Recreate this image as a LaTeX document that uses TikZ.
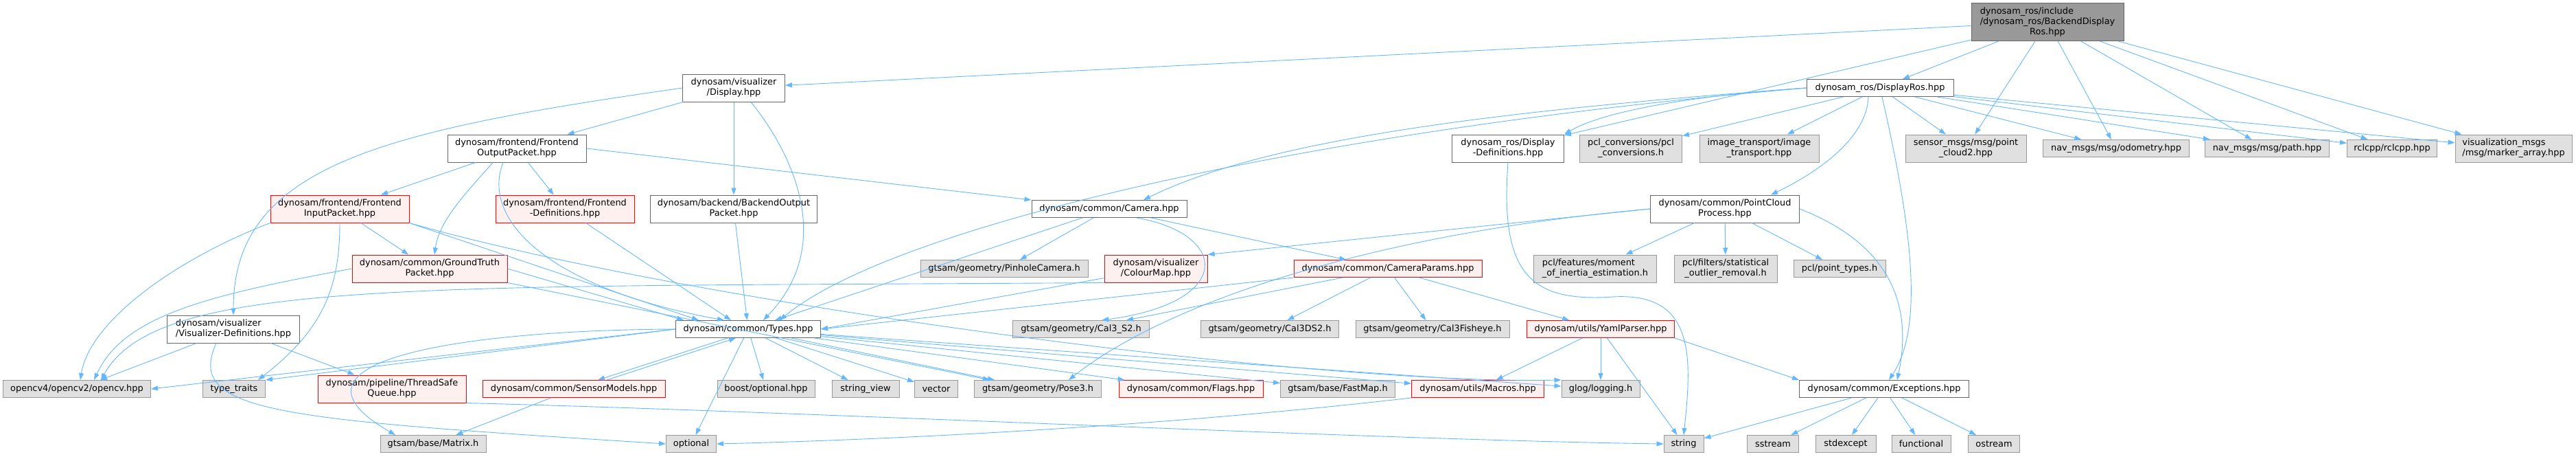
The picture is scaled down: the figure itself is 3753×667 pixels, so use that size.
\documentclass[tikz,border=0pt]{standalone}
\usepackage{fontspec}
\setmainfont{DejaVu Sans}
\usetikzlibrary{arrows.meta}

\definecolor{edgeblue}{HTML}{63B8FF}
\definecolor{sysfill}{HTML}{E0E0E0}
\definecolor{sysline}{HTML}{999999}
\definecolor{fileline}{HTML}{666666}
\definecolor{redfill}{HTML}{FFF0F0}
\definecolor{topfill}{HTML}{999999}

% labels split over lines, last line centred
\newcommand{\twoline}[2]{\begin{tabular}{@{}l@{}}#1\\\multicolumn{1}{@{}c@{}}{#2}\end{tabular}}
\newcommand{\threeline}[3]{\begin{tabular}{@{}l@{}}#1\\#2\\\multicolumn{1}{@{}c@{}}{#3}\end{tabular}}

\begin{document}
\begin{tikzpicture}[x=1pt, y=-1pt,
    whitebox/.style={rectangle, draw=fileline, line width=1pt, fill=white, inner sep=0pt,
      minimum height=25, font=\fontsize{12.9}{15}\selectfont},
    graybox/.style={whitebox, draw=sysline, fill=sysfill},
    redbox/.style={whitebox, draw=red, fill=redfill},
    topbox/.style={whitebox, fill=topfill},
    twolines/.style={minimum height=40},
    incl/.style={draw=edgeblue, line width=0.9pt, -{Triangle[length=10pt,width=7pt]}}]

    \useasboundingbox (0,0) rectangle (3753,667);

    % Top file
    \node[topbox, minimum width=222, minimum height=55] (top) at (2983,32)
        {\threeline{dynosam\_ros/include}{/dynosam\_ros/BackendDisplay}{Ros.hpp}};

    % Row 1
    \node[whitebox, twolines, minimum width=149] (display) at (1069,128) {\twoline{dynosam/visualizer}{/Display.hpp}};
    \node[whitebox, minimum width=214] (displayros) at (2739,128) {dynosam\_ros/DisplayRos.hpp};

    % Row 2
    \node[whitebox, twolines, minimum width=202] (feout) at (753,216) {\twoline{dynosam/frontend/Frontend}{OutputPacket.hpp}};
    \node[whitebox, twolines, minimum width=163] (rosdef) at (2197,216) {\twoline{dynosam\_ros/Display}{-Definitions.hpp}};
    \node[graybox, twolines, minimum width=149] (pclconv) at (2376,216) {\twoline{pcl\_conversions/pcl}{\_conversions.h}};
    \node[graybox, twolines, minimum width=174] (imgtr) at (2563,216) {\twoline{image\_transport/image}{\_transport.hpp}};
    \node[graybox, twolines, minimum width=176] (pctwo) at (2864,216) {\twoline{sensor\_msgs/msg/point}{\_cloud2.hpp}};
    \node[graybox, minimum width=213] (odom) at (3083,216) {nav\_msgs/msg/odometry.hpp};
    \node[graybox, minimum width=181] (navpath) at (3303,216) {nav\_msgs/msg/path.hpp};
    \node[graybox, minimum width=131] (rclcpp) at (3485,216) {rclcpp/rclcpp.hpp};
    \node[graybox, twolines, minimum width=170] (marker) at (3662,216) {\twoline{visualization\_msgs}{/msg/marker\_array.hpp}};

    % Row 3
    \node[redbox, twolines, minimum width=202] (fein) at (495,304) {\twoline{dynosam/frontend/Frontend}{InputPacket.hpp}};
    \node[redbox, twolines, minimum width=202] (fedef) at (823,304) {\twoline{dynosam/frontend/Frontend}{-Definitions.hpp}};
    \node[whitebox, twolines, minimum width=243] (beout) at (1069,304) {\twoline{dynosam/backend/BackendOutput}{Packet.hpp}};
    \node[whitebox, minimum width=226] (camera) at (1616,304) {dynosam/common/Camera.hpp};
    \node[whitebox, twolines, minimum width=217] (pcproc) at (2513,304) {\twoline{dynosam/common/PointCloud}{Process.hpp}};

    % Row 4
    \node[redbox, twolines, minimum width=226] (gtpacket) at (626,391) {\twoline{dynosam/common/GroundTruth}{Packet.hpp}};
    \node[graybox, minimum width=244] (pinhole) at (1463,391) {gtsam/geometry/PinholeCamera.h};
    \node[redbox, twolines, minimum width=150] (colourmap) at (1684,391) {\twoline{dynosam/visualizer}{/ColourMap.hpp}};
    \node[redbox, minimum width=274] (camparams) at (2022,391) {dynosam/common/CameraParams.hpp};
    \node[graybox, twolines, minimum width=179] (moment) at (2324,391) {\twoline{pcl/features/moment}{\_of\_inertia\_estimation.h}};
    \node[graybox, twolines, minimum width=150] (outlier) at (2514,391) {\twoline{pcl/filters/statistical}{\_outlier\_removal.h}};
    \node[graybox, minimum width=134] (pointtypes) at (2680,391) {pcl/point\_types.h};

    % Row 5
    \node[whitebox, twolines, minimum width=193] (visdef) at (340,479) {\twoline{dynosam/visualizer}{/Visualizer-Definitions.hpp}};
    \node[whitebox, minimum width=211] (types) at (1090,479) {dynosam/common/Types.hpp};
    \node[graybox, minimum width=199] (calstwo) at (1575,479) {gtsam/geometry/Cal3\_S2.h};
    \node[graybox, minimum width=201] (caldstwo) at (1850,479) {gtsam/geometry/Cal3DS2.h};
    \node[graybox, minimum width=224] (fisheye) at (2087,479) {gtsam/geometry/Cal3Fisheye.h};
    \node[redbox, minimum width=215] (yaml) at (2332,479) {dynosam/utils/YamlParser.hpp};

    % Row 6
    \node[graybox, minimum width=215] (opencv) at (112,566) {opencv4/opencv2/opencv.hpp};
    \node[graybox, minimum width=91] (typetraits) at (341,566) {type\_traits};
    \node[redbox, twolines, minimum width=216] (tsqueue) at (571,566) {\twoline{dynosam/pipeline/ThreadSafe}{Queue.hpp}};
    \node[redbox, minimum width=266] (sensormodels) at (836,566) {dynosam/common/SensorModels.hpp};
    \node[graybox, minimum width=142] (boostopt) at (1116,566) {boost/optional.hpp};
    \node[graybox, minimum width=98] (stringview) at (1261,566) {string\_view};
    \node[graybox, minimum width=63] (vector) at (1364,566) {vector};
    \node[graybox, minimum width=185] (pose) at (1512,566) {gtsam/geometry/Pose3.h};
    \node[redbox, minimum width=210] (flags) at (1735,566) {dynosam/common/Flags.hpp};
    \node[graybox, minimum width=167] (fastmap) at (1949,566) {gtsam/base/FastMap.h};
    \node[redbox, minimum width=193] (macros) at (2153,566) {dynosam/utils/Macros.hpp};
    \node[graybox, minimum width=114] (glog) at (2332,566) {glog/logging.h};
    \node[whitebox, minimum width=247] (exceptions) at (2745,566) {dynosam/common/Exceptions.hpp};

    % Row 7
    \node[graybox, minimum width=154] (matrix) at (631,646) {gtsam/base/Matrix.h};
    \node[graybox, minimum width=73] (optional) at (1007,646) {optional};
    \node[graybox, minimum width=58] (string) at (2453,646) {string};
    \node[graybox, minimum width=75] (sstream) at (2583,646) {sstream};
    \node[graybox, minimum width=88] (stdexcept) at (2689,646) {stdexcept};
    \node[graybox, minimum width=86] (functional) at (2799,646) {functional};
    \node[graybox, minimum width=75] (ostream) at (2905,646) {ostream};

    % Includes of the top file
    \foreach \dst in {display, displayros, rosdef, pctwo, odom, navpath, rclcpp, marker}
        \draw[incl] (top) -- (\dst);

    % Includes of DisplayRos
    \foreach \dst in {pclconv, imgtr, pctwo, odom, navpath, rclcpp, marker}
        \draw[incl] (displayros) -- (\dst);
    \draw[incl] (displayros.west) .. controls (2450,140) and (2330,165) .. (rosdef.north east);
    \draw[incl] (displayros.west) .. controls (1900,190) and (1300,330) .. ([xshift=46]types.north);
    \draw[incl] (displayros.west) .. controls (2200,160) and (1850,200) .. ([xshift=50]camera.north);
    \draw[incl] ([xshift=-17]displayros.south) .. controls (2720,200) and (2650,250) .. ([xshift=67]pcproc.north);
    \draw[incl] ([xshift=3]displayros.south) .. controls (2790,350) and (2800,480) .. ([xshift=7]exceptions.north);

    % Includes of Display
    \draw[incl] (display) -- (feout);
    \draw[incl] (display) -- (beout);
    \draw[incl] ([xshift=25]display.south) .. controls (1160,230) and (1215,360) .. ([xshift=22]types.north);
    \draw[incl] (display.west) .. controls (560,190) and (340,240) .. (visdef.north);

    % Includes of the frontend packets
    \draw[incl] (feout) -- (fein);
    \draw[incl] (feout) -- (fedef);
    \draw[incl] (feout.east) -- (camera.north west);
    \draw[incl] ([xshift=-35]feout.south) .. controls (680,280) and (640,320) .. ([xshift=7]gtpacket.north);
    \draw[incl] ([xshift=-20]feout.south) .. controls (700,320) and (800,420) .. ([xshift=-35]types.north);
    \draw[incl] (fedef) -- ([xshift=-25]types.north);
    \draw[incl] (beout) -- (types);
    \draw[incl] (fein) -- (gtpacket);
    \draw[incl] (fein.south east) -- ([xshift=-72]types.north);
    \draw[incl] (fein.south west) .. controls (250,380) and (130,470) .. ([xshift=5]opencv.north);
    \draw[incl] (fein.south) .. controls (495,420) and (470,480) .. ([xshift=35]typetraits.north);
    \draw[incl] (fein.south east) .. controls (1000,440) and (1900,560) .. (glog.north west);
    \draw[incl] (gtpacket.west) .. controls (300,430) and (180,460) .. ([xshift=25]opencv.north);
    \draw[incl] (gtpacket.east) -- ([xshift=-94]types.north);
    \draw[incl] (gtpacket.south east) -- ([xshift=-70]pose.north);

    % Includes of the camera files
    \draw[incl] (camera) -- (types);
    \draw[incl] (camera) -- (pinhole);
    \draw[incl] (camera) -- (camparams);
    \draw[incl] ([xshift=40]camera.south) .. controls (1790,340) and (1800,440) .. ([xshift=30]calstwo.north);
    \draw[incl] (camparams.south west) -- (types.east);
    \foreach \dst in {calstwo, caldstwo, fisheye, yaml}
        \draw[incl] (camparams) -- (\dst);
    \draw[incl] (colourmap) -- (types.east);
    \draw[incl] (colourmap.south west) .. controls (600,418) and (230,405) .. ([xshift=35]opencv.north);

    % Includes of PointCloudProcess
    \draw[incl] (pcproc.west) -- (colourmap.north east);
    \draw[incl] (pcproc.west) .. controls (2000,340) and (1700,440) .. ([xshift=45]pose.north);
    \foreach \dst in {moment, outlier, pointtypes}
        \draw[incl] (pcproc) -- (\dst);
    \draw[incl] (pcproc.east) .. controls (2740,350) and (2790,430) .. ([xshift=19]exceptions.north);

    % Includes of the definitions files
    \draw[incl] (rosdef.south) .. controls (2185,400) and (2230,440) .. (2350,432)
        .. controls (2470,425) and (2465,520) .. (string.north);
    \draw[incl] (visdef) -- (opencv);
    \draw[incl] (visdef) -- (tsqueue);
    \draw[incl] ([xshift=-25]visdef.south) .. controls (270,600) and (400,610) .. (optional.west);

    % Includes of Types
    \draw[incl] (types.west) -- (opencv.east);
    \draw[incl] (types.west) -- (typetraits.north east);
    \draw[incl] (types.west) .. controls (700,480) and (380,520) .. ([xshift=-55]matrix.north);
    \draw[incl] ([xshift=-30]types.south) -- ([xshift=35]sensormodels.north);
    \draw[incl] ([xshift=48]sensormodels.north) -- ([xshift=-18]types.south);
    \foreach \dst in {optional, boostopt, stringview, vector, pose, flags, fastmap, macros, glog}
        \draw[incl] (types) -- (\dst);

    % Remaining includes
    \draw[incl] (sensormodels) -- (matrix);
    \draw[incl] (tsqueue.south east) .. controls (1200,600) and (2000,640) .. (string.west);
    \draw[incl] (macros.south west) .. controls (1700,620) and (1300,640) .. (optional.east);
    \draw[incl] (yaml) -- (macros);
    \draw[incl] (yaml) -- (glog);
    \draw[incl] (yaml) -- (string);
    \draw[incl] (yaml.south east) -- (exceptions.north west);

    % Includes of Exceptions
    \foreach \dst in {string, sstream, stdexcept, functional, ostream}
        \draw[incl] (exceptions) -- (\dst);
\end{tikzpicture}
\end{document}
